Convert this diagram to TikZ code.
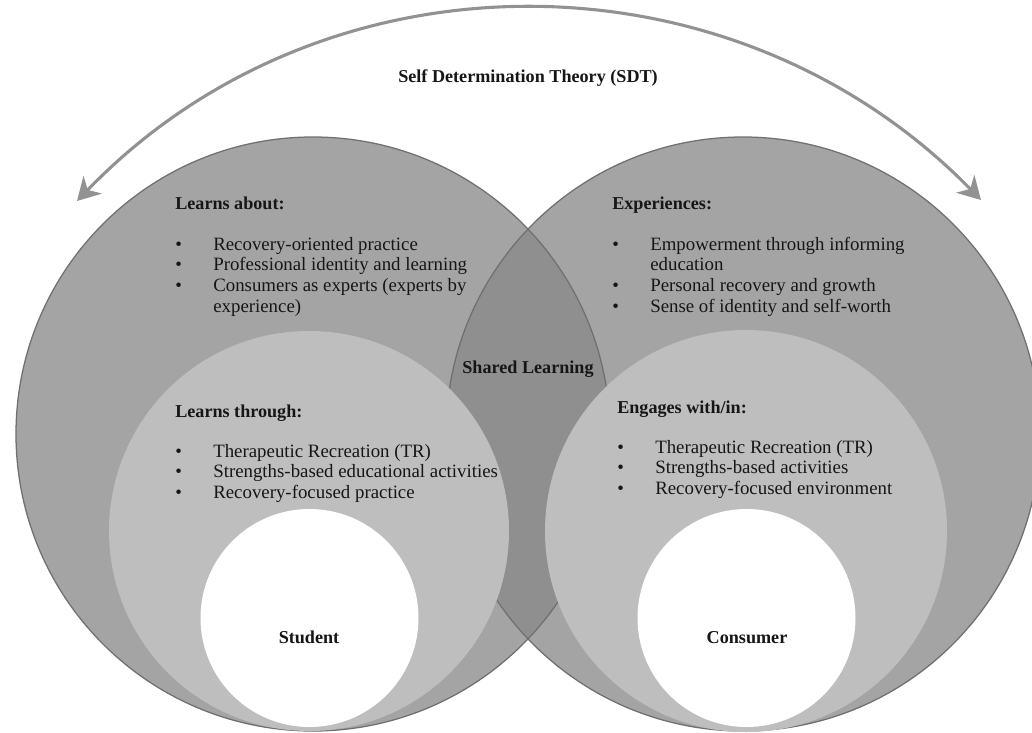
\documentclass[tikz,border=0pt]{standalone}
\usepackage{fontspec}
\setmainfont{Liberation Serif}
\usepackage{xcolor}
\usepackage{array}
\usetikzlibrary{arrows.meta}

\definecolor{outergray}{HTML}{A4A4A4}
\definecolor{lensgray}{HTML}{8F8F8F}
\definecolor{innergray}{HTML}{BEBEBE}
\definecolor{rimgray}{HTML}{707070}
\definecolor{arcgray}{HTML}{929292}
\definecolor{inkgray}{HTML}{161616}

% one bullet row of a list
\newcommand{\bul}[1]{\textbullet & #1\\}
\newcommand{\cont}[1]{ & #1\\}

\begin{document}
\begin{tikzpicture}[x=0.025cm,y=-0.025cm]
\tikzset{>={Stealth[length=16pt,width=18pt,inset=5pt]}}
\tikzstyle{heading}=[font=\bfseries\fontsize{12.9}{14.7}\selectfont,text=inkgray,inner sep=0pt]
\tikzstyle{itemlist}=[font=\fontsize{13.4}{14.7}\selectfont,text=inkgray,inner sep=0pt,anchor=base west]
\tikzstyle{sdtarc}=[draw=arcgray,line width=2.2pt,fill=none]

\path[use as bounding box,fill=white] (0,0) rectangle (1032,732);

\coordinate (cL) at (313,434);
\coordinate (cR) at (743,434);
\coordinate (iL) at (309,531);
\coordinate (iR) at (746,531);
\coordinate (wL) at (309.5,618);
\coordinate (wR) at (746.5,618);

% outer circles and their overlap
\fill[outergray] (cL) circle[radius=297];
\fill[outergray] (cR) circle[radius=297];
\begin{scope}
\clip (cL) circle[radius=297];
\fill[lensgray] (cR) circle[radius=297];
\end{scope}
\draw[rimgray,line width=0.9pt] (cL) circle[radius=297];
\draw[rimgray,line width=0.9pt] (cR) circle[radius=297];

% inner circles
\fill[innergray] (iL) circle[radius=200];
\fill[innergray] (iR) circle[radius=201];
\fill[white] (wL) circle[radius=109];
\fill[white] (wR) circle[radius=109];

% arc on top
\coordinate (sdtL) at (77,201);
\coordinate (sdtR) at (981,200);
\draw[sdtarc,<->] (sdtL) .. controls (325,-56) and (733,-54) .. (sdtR);
\node[heading,anchor=base] (sdt) at (528,82) {Self Determination Theory (SDT)};

% student side
\node[heading,anchor=base west] (about) at (175,209) {Learns about:};
\node[itemlist] (aboutlist) at (175,250) {\begin{tabular}[t]{@{}p{0.95cm}@{}l@{}}
\bul{Recovery-oriented practice}
\bul{Professional identity and learning}
\bul{Consumers as experts (experts by}
\cont{experience)}
\end{tabular}};

\node[heading,anchor=base west] (through) at (175,417) {Learns through:};
\node[itemlist] (throughlist) at (175,457) {\begin{tabular}[t]{@{}p{0.95cm}@{}l@{}}
\bul{Therapeutic Recreation (TR)}
\bul{Strengths-based educational activities}
\bul{Recovery-focused practice}
\end{tabular}};

% consumer side
\node[heading,anchor=base west] (exper) at (612,209) {Experiences:};
\node[itemlist] (experlist) at (612,250) {\begin{tabular}[t]{@{}p{0.95cm}@{}l@{}}
\bul{Empowerment through informing}
\cont{education}
\bul{Personal recovery and growth}
\bul{Sense of identity and self-worth}
\end{tabular}};

\node[heading,anchor=base west] (engage) at (617,413) {Engages with/in:};
\node[itemlist] (engagelist) at (617,453) {\begin{tabular}[t]{@{}p{0.95cm}@{}l@{}}
\bul{Therapeutic Recreation (TR)}
\bul{Strengths-based activities}
\bul{Recovery-focused environment}
\end{tabular}};

\node[heading,anchor=base] (shared) at (528,373) {Shared Learning};
\node[heading,anchor=base] (student) at (309,643) {Student};
\node[heading,anchor=base] (consumer) at (747,643) {Consumer};
\end{tikzpicture}
\end{document}
